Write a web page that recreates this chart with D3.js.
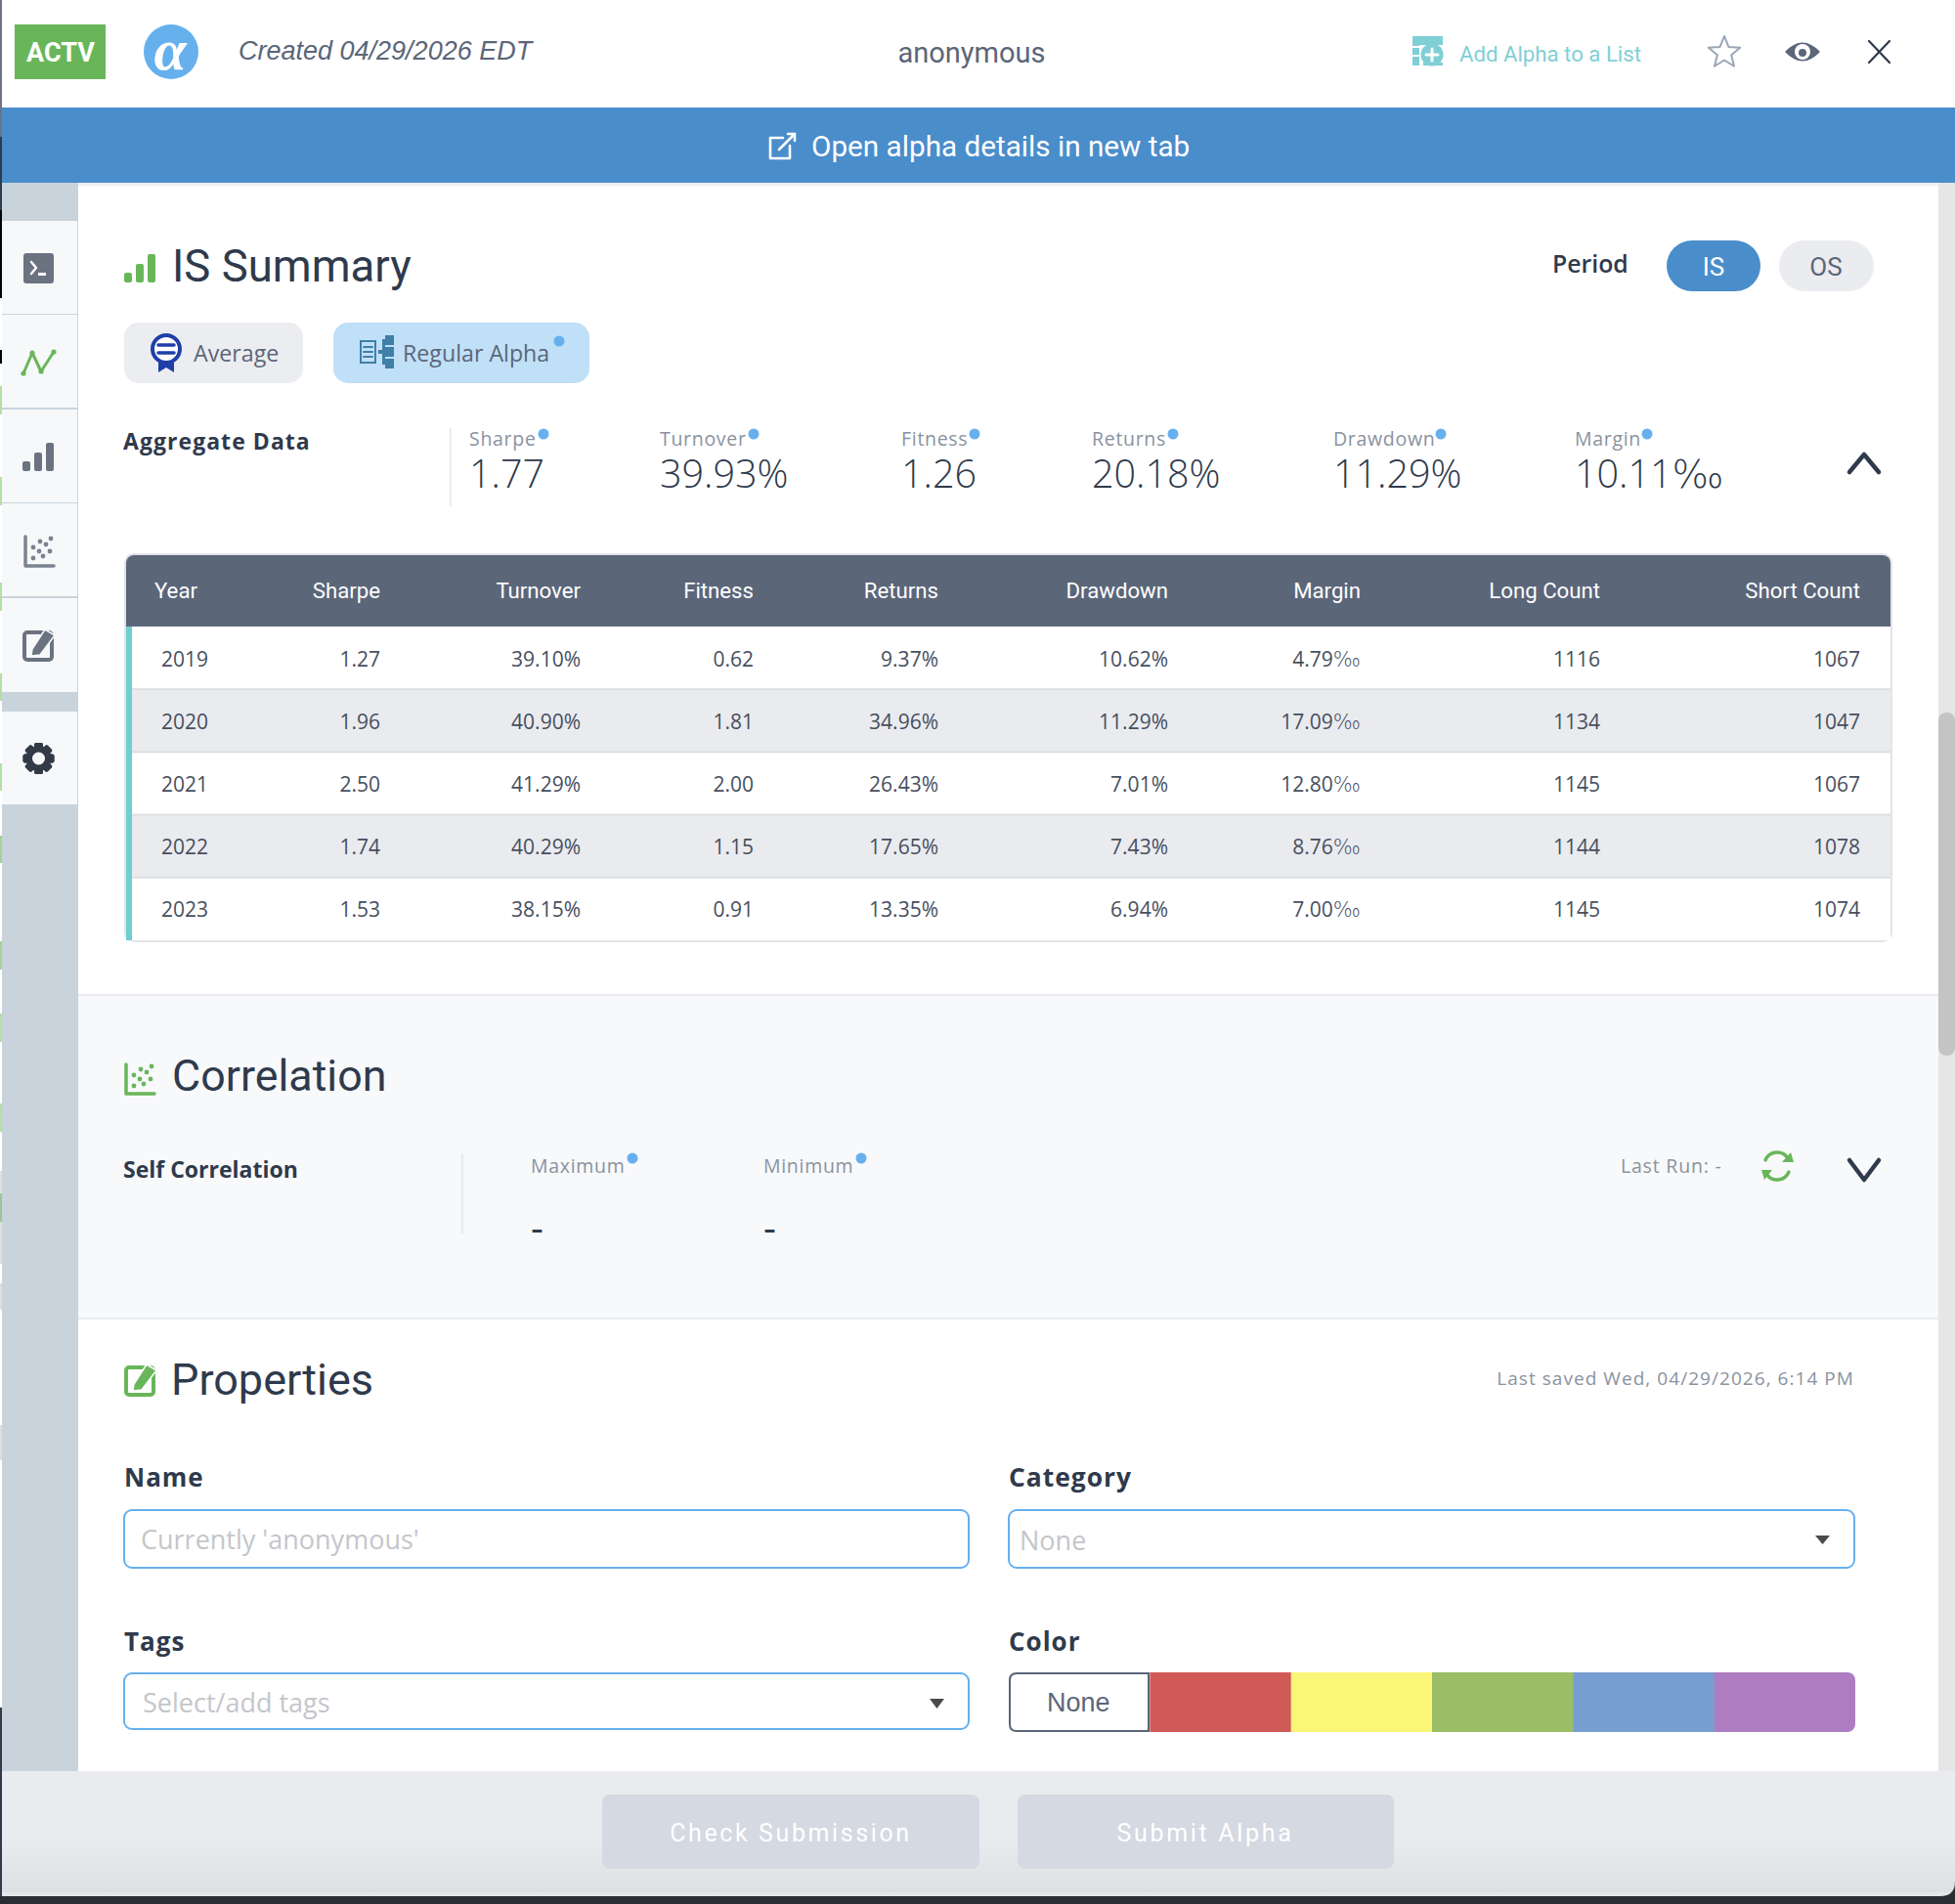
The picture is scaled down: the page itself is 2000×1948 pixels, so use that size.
<!DOCTYPE html>
<html>
<head>
<meta charset="utf-8">
<script src="https://cdn.jsdelivr.net/npm/d3@7"></script>
<style>
  html, body { margin: 0; padding: 0; background: #fff; }
  svg { display: block; }
</style>
</head>
<body>
<div id="canvas"></div>
<script>
// table values
var columns = ["Year", "Sharpe", "Turnover", "Fitness", "Returns", "Drawdown", "Margin", "Long Count", "Short Count"];
var years = ["2019", "2020", "2021", "2022", "2023"];
var sharpe = ["1.27", "1.96", "2.50", "1.74", "1.53"];
var turnover = ["39.10%", "40.90%", "41.29%", "40.29%", "38.15%"];
var fitness = ["0.62", "1.81", "2.00", "1.15", "0.91"];
var returns = ["9.37%", "34.96%", "26.43%", "17.65%", "13.35%"];
var drawdown = ["10.62%", "11.29%", "7.01%", "7.43%", "6.94%"];
var margin = ["4.79‰", "17.09‰", "12.80‰", "8.76‰", "7.00‰"];
var longCount = ["1116", "1134", "1145", "1144", "1145"];
var shortCount = ["1067", "1047", "1067", "1078", "1074"];
var tableCols = [years, sharpe, turnover, fitness, returns, drawdown, margin, longCount, shortCount];

// aggregate row
var aggLabels = ["Sharpe", "Turnover", "Fitness", "Returns", "Drawdown", "Margin"];
var aggValues = ["1.77", "39.93%", "1.26", "20.18%", "11.29%", "10.11‰"];

var corrLabels = ["Maximum", "Minimum"];
var corrValues = ["-", "-"];
var swatches = ["None", "#d05a58", "#fbf677", "#9abd65", "#769ed0", "#ae7dc1"];

var DIN = "Roboto, sans-serif";
var OPEN = "'Open Sans', sans-serif";
var DARK = "#2f3a4c", SLATE = "#5b6679", MUTED = "#8a92a0", BLUE = "#4a8dcb", DOT = "#66b0ee", GREEN = "#69b65a";
var SIDE = "#6b7380";

var svg = d3.select("#canvas").append("svg")
  .attr("width", 2000).attr("height", 1948);

function rect(x, y, w, h, fill, r) {
  return svg.append("rect").attr("x", x).attr("y", y).attr("width", w).attr("height", h)
    .attr("fill", fill).attr("rx", r || 0);
}
function txt(x, y, s, size, fill, font, extra) {
  var t = svg.append("text").attr("x", x).attr("y", y)
    .attr("font-size", size).attr("fill", fill).attr("font-family", font);
  extra = extra || {};
  Object.keys(extra).forEach(function(k) { t.attr(k, extra[k]); });
  // the per mille sign in the reference is wider than the Open Sans one
  if (s.slice(-1) == "‰") {
    t.append("tspan").text(s.slice(0, -1));
    t.append("tspan").attr("font-family", "'DejaVu Sans', sans-serif").attr("font-weight", 300).text("‰");
  } else {
    t.text(s);
  }
  return t;
}
function icon(d, fill, stroke, sw) {
  return svg.append("path").attr("d", d).attr("fill", fill || "none")
    .attr("stroke", stroke || "none").attr("stroke-width", sw || 0)
    .attr("stroke-linecap", "round").attr("stroke-linejoin", "round");
}
function circle(x, y, r, fill) {
  return svg.append("circle").attr("cx", x).attr("cy", y).attr("r", r).attr("fill", fill);
}
function dot(x, y) { circle(x, y, 5.5, DOT); }

// icons used twice, once in the sidebar and once beside the section title
function barsIcon(x, y, c, s) {
  rect(x, y + 19 * s, 8 * s, 10 * s, c, 2);
  rect(x + 12 * s, y + 10 * s, 8 * s, 19 * s, c, 2);
  rect(x + 24 * s, y, 8 * s, 29 * s, c, 2);
}
function scatterIcon(x, y, c) {
  icon("M" + (x + 2) + " " + y + "V" + (y + 30) + "H" + (x + 31), null, c, 3.5);
  [[10, 22], [16, 15], [23, 8], [28, 2], [10, 11], [20, 20], [27, 15], [17, 5]].forEach(function(p) {
    circle(x + p[0], y + p[1], 2.4, c);
  });
}
function editIcon(x, y, c, bg) {
  svg.append("rect").attr("x", x + 2).attr("y", y + 3).attr("width", 28).attr("height", 28).attr("rx", 3)
    .attr("fill", bg).attr("stroke", c).attr("stroke-width", 4);
  icon("M" + (x + 10) + " " + (y + 20) + "L" + (x + 23) + " " + y + "L" + (x + 33) + " " + (y + 6) +
       "L" + (x + 18) + " " + (y + 26) + "L" + (x + 9) + " " + (y + 27) + "Z", c, bg, 1.5);
}

// backgrounds
rect(0, 0, 2000, 1948, "#fff");
rect(2, 187, 78, 1625, "#c8d3dc");
rect(80, 1018, 1903, 331, "#f8f9fb");
rect(80, 1017, 1903, 2, "#e9ebef");
rect(80, 1348, 1903, 2, "#e9ebef");
rect(1983, 187, 17, 1625, "#e6e6e6");
rect(1983, 729, 17, 351, "#c4c4c4", 8);

// left edge of the window behind
var edgeStart = [0, 140, 215, 358, 395, 488, 596, 689, 781, 855, 963, 1037, 1129, 1198, 1221, 1250, 1313, 1458, 1747];
var edgeEnd = [140, 215, 305, 372, 424, 517, 625, 717, 809, 883, 992, 1066, 1158, 1221, 1250, 1293, 1340, 1494, 1948];
var edgeColor = ["#6f7582", "#2e3c50", "#050505", "#050505", "#b4dfa6", "#b4dfa6", "#b4dfa6", "#b4dfa6", "#b4dfa6",
                 "#a3d398", "#a3d398", "#b4dfa6", "#b4dfa6", "#dcdee0", "#9cc59a", "#dcdee0", "#dcdee0", "#dcdee0", "#333a4a"];
edgeStart.forEach(function(s, i) { rect(0, s, 2, edgeEnd[i] - s, edgeColor[i]); });

// sidebar buttons
var sideY = d3.scaleOrdinal().domain(d3.range(6)).range([226, 322, 419, 515, 612, 728]);
d3.range(6).forEach(function(i) {
  rect(2, sideY(i), 77, i == 4 ? 96 : 95, "#f7f8fa");
});
rect(24, 259, 31, 31, SIDE, 3);
icon("M32 268L37 274L32 280", null, "#fff", 2.4);
rect(39, 279, 8, 3, "#fff");
icon("M24 382L33 361L42 380L55 360", null, GREEN, 3);
[[24, 382], [33, 361], [42, 380], [55, 360]].forEach(function(p) { circle(p[0], p[1], 2.6, GREEN); });
barsIcon(23, 453, SIDE, 1);
scatterIcon(24, 549, "#7b8390");
editIcon(23, 644, SIDE, "#f7f8fa");
var gearTeeth = d3.range(8).map(function(i) { return i * 45; });
gearTeeth.forEach(function(a) {
  svg.append("rect").attr("x", 35).attr("y", 760).attr("width", 9).attr("height", 32).attr("rx", 2)
    .attr("fill", "#323a48").attr("transform", "rotate(" + a + " 39.5 776)");
});
circle(39.5, 776, 13, "#323a48");
circle(39.5, 776, 6.5, "#f7f8fa");

// top bar
rect(15, 25, 93, 56, GREEN);
txt(62, 63, "ACTV", 27, "#fff", DIN, {"text-anchor": "middle", "font-weight": 700});
circle(175, 53, 28, DOT);
txt(174, 71, "α", 60, "#fff", "'Liberation Serif', serif", {"text-anchor": "middle", "font-style": "italic", "font-weight": 700});
txt(244, 61, "Created 04/29/2026 EDT", 27, SLATE, "'Liberation Sans', sans-serif", {"font-style": "italic"});
txt(994, 64, "anonymous", 29, SLATE, DIN, {"text-anchor": "middle"});

// add to list icon
var TEAL = "#7fcfd6";
rect(1445, 37, 31, 9, TEAL);
rect(1445, 37, 7, 30, TEAL);
rect(1445, 47, 7, 2, "#fff");
rect(1445, 56, 7, 2, "#fff");
circle(1465, 56, 11.5, TEAL);
icon("M1465 50V62M1459 56H1471", null, "#fff", 3);
rect(1456, 64, 20, 3, TEAL);
txt(1493, 63, "Add Alpha to a List", 22.2, TEAL, DIN);

// star
var starPts = d3.range(10).map(function(i) {
  var a = -Math.PI / 2 + i * Math.PI / 5, r = i % 2 ? 7.5 : 17;
  return [1764 + r * Math.cos(a), 54 + r * Math.sin(a)];
});
icon("M" + starPts.join("L") + "Z", "none", "#9aa6b6", 2);

// eye
icon("M1826 53Q1844 34 1862 53Q1844 72 1826 53Z", SLATE);
circle(1844, 53, 8, "#fff");
circle(1844, 54, 4, SLATE);

// close
icon("M1912 42L1933 64M1933 42L1912 64", null, DARK, 2.2);

// blue bar
rect(2, 110, 1998, 77, BLUE);
rect(80, 187, 1903, 3, "#eef0f3");
icon("M806 137L813 137L813 144M813 137L797 153M801 141H788V162H808V149", null, "#fff", 2.6);
txt(830, 160, "Open alpha details in new tab", 29.7, "#fff", DIN);

// IS Summary
barsIcon(127, 260, GREEN, 1);
txt(176, 288, "IS Summary", 45.5, DARK, DIN);

txt(1588, 279, "Period", 24.8, DARK, OPEN, {"font-weight": 600});
rect(1705, 246, 96, 52, BLUE, 26);
txt(1753, 282, "IS", 26, "#fff", DIN, {"text-anchor": "middle"});
rect(1820, 246, 97, 52, "#ebecf0", 26);
txt(1868, 282, "OS", 26, SLATE, DIN, {"text-anchor": "middle"});

// tabs
rect(127, 330, 183, 62, "#ecedf1", 15);
svg.append("circle").attr("cx", 170).attr("cy", 357).attr("r", 14).attr("fill", "#fff").attr("stroke", "#1f3fa8").attr("stroke-width", 4);
icon("M162 353H178M162 361H178", null, "#1f3fa8", 3.5);
icon("M162 371V381L170 376L178 381V371Z", "#1f3fa8");
txt(198, 370, "Average", 23.2, SLATE, OPEN);

rect(341, 330, 262, 62, "#c0e0f8", 15);
var TREE = "#3f7fa8";
svg.append("rect").attr("x", 369).attr("y", 349).attr("width", 15).attr("height", 22).attr("fill", "none").attr("stroke", TREE).attr("stroke-width", 2);
icon("M372 355H381M372 360H381M372 365H381", null, TREE, 2);
rect(387, 358, 10, 4, TREE);
rect(394, 343, 9, 10, TREE);
rect(394, 355, 9, 10, TREE);
rect(394, 367, 9, 10, TREE);
rect(391, 347, 3, 26, TREE);
txt(412, 370, "Regular Alpha", 23.2, SLATE, OPEN);
dot(572, 349);

// aggregate
txt(126, 460, "Aggregate Data", 23, DARK, OPEN, {"font-weight": 700, "letter-spacing": 1.05});
rect(460, 438, 1.5, 80, "#e3e5ea");
var aggX = d3.scaleOrdinal().domain(aggLabels).range([480, 675, 922, 1117, 1364, 1611]);
var aggDot = d3.scaleOrdinal().domain(aggLabels).range([556, 771, 997, 1200, 1474, 1685]);
aggLabels.forEach(function(l, i) {
  txt(aggX(l), 456, l, 19.5, MUTED, OPEN, {"letter-spacing": 0.7});
  txt(aggX(l), 499, aggValues[i], 39.5, DARK, OPEN, {"font-weight": 300});
  dot(aggDot(l), 444);
});
icon("M1892 483L1907 465L1922 483", null, DARK, 4.5);

// table
var colRight = d3.scaleOrdinal().domain(columns).range([0, 389, 594, 771, 960, 1195, 1392, 1637, 1903]);
var rowY = d3.scaleBand().domain(years).range([641, 962]);

rect(127, 566, 1809, 398, "#e2e4e8", 10);
rect(129, 568, 1805, 394, "#fff", 8);
rect(129, 568, 1805, 73, SLATE, 8);
rect(129, 600, 1805, 41, SLATE);

svg.selectAll("rect.row").data(years).enter().append("rect")
  .attr("class", "row")
  .attr("x", 134).attr("width", 1800)
  .attr("y", function(d) { return rowY(d); })
  .attr("height", rowY.bandwidth())
  .attr("fill", function(d, i) { return i % 2 ? "#eaebef" : "#fff"; });
svg.selectAll("rect.rule").data(years.slice(1)).enter().append("rect")
  .attr("class", "rule")
  .attr("x", 134).attr("width", 1800)
  .attr("y", function(d) { return rowY(d) - 1; })
  .attr("height", 2)
  .attr("fill", "#dcdee2");
rect(129, 641, 6, 321, "#6fcfd0");

columns.forEach(function(c, j) {
  if (j == 0) txt(158, 612, c, 22.2, "#fff", DIN);
  else txt(colRight(c), 612, c, 22.2, "#fff", DIN, {"text-anchor": "end"});
  tableCols[j].forEach(function(v, i) {
    var y = rowY(years[i]) + rowY.bandwidth() / 2 + 8.4;
    if (j == 0) txt(165, y, v, 21, "#474f5e", OPEN);
    else txt(colRight(c), y, v, 21, "#474f5e", OPEN, {"text-anchor": "end"});
  });
});

// correlation
scatterIcon(127, 1089, GREEN);
txt(176, 1116, "Correlation", 44.8, DARK, DIN);
txt(126, 1205, "Self Correlation", 23, DARK, OPEN, {"font-weight": 700});
rect(472, 1180, 1.5, 82, "#e3e5ea");
var corrX = d3.scaleOrdinal().domain(corrLabels).range([543, 781]);
var corrDot = d3.scaleOrdinal().domain(corrLabels).range([647, 881]);
corrLabels.forEach(function(l, i) {
  txt(corrX(l), 1200, l, 19.5, MUTED, OPEN, {"letter-spacing": 0.7});
  txt(corrX(l), 1270, corrValues[i], 40, DARK, OPEN);
  dot(corrDot(l), 1185);
});
txt(1658, 1200, "Last Run: -", 19.5, MUTED, OPEN, {"letter-spacing": 0.8});
icon("M1806 1187A13 13 0 0 1 1829 1185M1830 1199A13 13 0 0 1 1807 1201", null, GREEN, 3.4);
icon("M1823 1189L1835 1189L1832 1179Z", GREEN);
icon("M1802 1197L1813 1197L1805 1207Z", GREEN);
icon("M1892 1187L1907 1207L1922 1187", null, DARK, 4.5);

// properties
editIcon(127, 1396, GREEN, "#fff");
txt(175, 1427, "Properties", 45, DARK, DIN);
txt(1897, 1417, "Last saved Wed, 04/29/2026, 6:14 PM", 19, MUTED, OPEN, {"text-anchor": "end", "letter-spacing": 1.05});

txt(127, 1521, "Name", 26, DARK, OPEN, {"font-weight": 700, "letter-spacing": 1});
txt(1032, 1521, "Category", 26.4, DARK, OPEN, {"font-weight": 700, "letter-spacing": 1});
txt(127, 1689, "Tags", 26, DARK, OPEN, {"font-weight": 700, "letter-spacing": 1});
txt(1032, 1689, "Color", 26, DARK, OPEN, {"font-weight": 700, "letter-spacing": 1});

function field(x, y, w, h) {
  svg.append("rect").attr("x", x).attr("y", y).attr("width", w).attr("height", h).attr("rx", 8)
    .attr("fill", "#fff").attr("stroke", DOT).attr("stroke-width", 2);
}
field(127, 1545, 864, 59);
txt(144, 1585, "Currently 'anonymous'", 27, "#c4c6cb", OPEN);
field(1032, 1545, 865, 59);
txt(1043, 1586, "None", 27, "#c4c6cb", OPEN);
icon("M1857 1571H1872L1864.5 1580Z", "#4a4a4a");
field(127, 1712, 864, 57);
txt(146, 1752, "Select/add tags", 27, "#c4c6cb", OPEN);
icon("M951 1738H966L958.5 1748Z", "#4a4a4a");

var swatchX = d3.scaleBand().domain(swatches).range([1032, 1898]);
svg.append("clipPath").attr("id", "swatchClip").append("rect")
  .attr("x", 1032).attr("y", 1711).attr("width", 866).attr("height", 61).attr("rx", 8);
svg.append("g").attr("clip-path", "url(#swatchClip)")
  .selectAll("rect").data(swatches.slice(1)).enter().append("rect")
  .attr("x", function(d) { return swatchX(d); })
  .attr("y", 1711).attr("width", swatchX.bandwidth() + 0.5).attr("height", 61)
  .attr("fill", function(d) { return d; });
svg.append("path")
  .attr("d", "M1175 1712H1040Q1033 1712 1033 1719V1764Q1033 1771 1040 1771H1175Z")
  .attr("fill", "#fff").attr("stroke", SLATE).attr("stroke-width", 2);
txt(swatchX("None") + swatchX.bandwidth() / 2 - 1, 1751, "None", 27, SLATE, "'Liberation Sans', sans-serif", {"text-anchor": "middle"});

// footer
var grad = svg.append("defs").append("linearGradient").attr("id", "foot").attr("x1", 0).attr("y1", 0).attr("x2", 0).attr("y2", 1);
grad.append("stop").attr("offset", "0.55").attr("stop-color", "#e9ebef");
grad.append("stop").attr("offset", "1").attr("stop-color", "#dcdee2");
rect(0, 1940, 2000, 8, "#2b2d32");
rect(2, 1812, 1998, 128, "url(#foot)");
rect(2, 1936, 1998, 4, "#e4e6ea");
icon("M2000 1925Q2000 1940 1985 1940H2000Z", "#2b2d32");
rect(616, 1836, 386, 76, "#d5d9e2", 8);
rect(1041, 1836, 385, 76, "#d5d9e2", 8);
txt(809, 1884, "Check Submission", 25, "#fff", DIN, {"text-anchor": "middle", "letter-spacing": 2.6});
txt(1233, 1884, "Submit Alpha", 25, "#fff", DIN, {"text-anchor": "middle", "letter-spacing": 2.7});
</script>
</body>
</html>
